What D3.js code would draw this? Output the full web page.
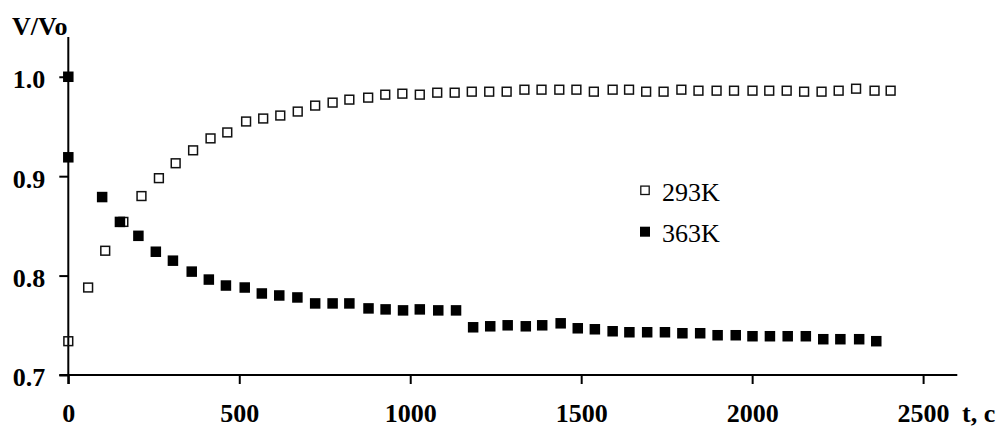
<!DOCTYPE html>
<html>
<head>
<meta charset="utf-8">
<script src="https://cdn.jsdelivr.net/npm/d3@7"></script>
<style>
  html, body { margin: 0; padding: 0; background: #fff; }
  svg { display: block; }
  text { font-family: "Liberation Serif", "Times New Roman", serif; fill: #000; }
</style>
</head>
<body>
<div id="chart"></div>
<script>
// ---- data ----
const t293 = [0, 58, 108, 161, 214, 265, 314, 365, 416, 465, 520, 570, 620, 671, 722, 773, 822, 877,
  927, 977, 1028, 1079, 1130, 1180, 1231, 1282, 1334, 1384, 1436, 1486, 1537, 1592, 1640, 1690,
  1741, 1793, 1843, 1896, 1947, 2001, 2050, 2101, 2152, 2203, 2253, 2304, 2358, 2405];
const v293 = [0.734, 0.788, 0.825, 0.854, 0.880, 0.898, 0.913, 0.926, 0.938, 0.944, 0.955, 0.958, 0.961, 0.965, 0.971, 0.974, 0.977, 0.979,
  0.982, 0.983, 0.982, 0.984, 0.984, 0.985, 0.985, 0.985, 0.987, 0.987, 0.987, 0.987, 0.985, 0.987, 0.987, 0.985,
  0.985, 0.987, 0.986, 0.986, 0.986, 0.986, 0.986, 0.986, 0.985, 0.985, 0.986, 0.988, 0.986, 0.986];

const t363 = [0, 0, 99, 151, 205, 256, 306, 361, 411, 461, 516, 566, 617, 670, 722, 773, 822, 878,
  928, 979, 1028, 1082, 1134, 1184, 1234, 1285, 1338, 1386, 1440, 1490, 1540, 1592, 1641, 1693,
  1745, 1796, 1848, 1899, 1952, 2001, 2052, 2104, 2157, 2208, 2258, 2313, 2363];
const v363 = [1.000, 0.919, 0.879, 0.854, 0.840, 0.824, 0.815, 0.804, 0.796, 0.790, 0.788, 0.782, 0.780, 0.778, 0.772, 0.772, 0.772, 0.767,
  0.766, 0.765, 0.766, 0.765, 0.765, 0.748, 0.749, 0.750, 0.749, 0.750, 0.752, 0.747, 0.746, 0.744, 0.743, 0.743,
  0.743, 0.742, 0.742, 0.740, 0.740, 0.739, 0.739, 0.739, 0.739, 0.736, 0.736, 0.736, 0.734];

const xTicks = [0, 500, 1000, 1500, 2000, 2500];
const yTicks = [0.7, 0.8, 0.9, 1.0];
const seriesNames = ["293K", "363K"];
const xLabel = "t, c";
const yLabel = "V/Vo";

// ---- layout ----
const W = 1000, H = 428;
const svg = d3.select("#chart").append("svg").attr("width", W).attr("height", H);

const x = d3.scaleLinear().domain([0, 2600]).range([68.3, 957.3]);
const y = d3.scaleLinear().domain([0.7, 1.04]).range([375, 37]);

const fontSize = 26;
const xPad = 20;

// x axis
const gx = svg.append("g").attr("transform", `translate(0,${y(0.7)})`)
  .call(d3.axisBottom(x).tickValues(xTicks).tickSize(9).tickSizeOuter(0).tickPadding(xPad)
    .tickFormat(d3.format("d")));
gx.select(".domain").remove();
gx.selectAll(".tick line").attr("stroke", "#000").attr("stroke-width", 2);
gx.selectAll(".tick text").attr("font-size", fontSize).attr("font-weight", "bold")
  .attr("font-family", "Liberation Serif, Times New Roman, serif");
gx.append("line").attr("x1", x(0) - 9).attr("x2", x(2600)).attr("y1", 0).attr("y2", 0)
  .attr("stroke", "#000").attr("stroke-width", 2);

// y axis
const gy = svg.append("g").attr("transform", `translate(${x(0)},0)`)
  .call(d3.axisLeft(y).tickValues(yTicks).tickSize(9).tickSizeOuter(0).tickPadding(14)
    .tickFormat(d3.format(".1f")));
gy.select(".domain").remove();
gy.selectAll(".tick line").attr("stroke", "#000").attr("stroke-width", 2);
gy.selectAll(".tick text").attr("font-size", fontSize).attr("font-weight", "bold")
  .attr("dy", "0.42em")
  .attr("font-family", "Liberation Serif, Times New Roman, serif");
gy.append("line").attr("x1", 0).attr("x2", 0).attr("y1", y(1.04)).attr("y2", y(0.7) + 9)
  .attr("stroke", "#000").attr("stroke-width", 2);

// axis titles
svg.append("text").attr("x", 12).attr("y", 35)
  .attr("font-size", fontSize).attr("font-weight", "bold").text(yLabel);
svg.append("text").attr("x", 962).attr("y", y(0.7) + 9 + xPad + 0.71 * fontSize)
  .attr("font-size", fontSize).attr("font-weight", "bold").text(xLabel);

// data
const open = t293.map((t, i) => ({ t, v: v293[i] }));
const filled = t363.map((t, i) => ({ t, v: v363[i] }));

const so = 8.8; // open square inner size
svg.append("g").selectAll("rect").data(open).join("rect")
  .attr("x", d => x(d.t) - so / 2).attr("y", d => y(d.v) - so / 2)
  .attr("width", so).attr("height", so)
  .attr("fill", "none").attr("stroke", "#111").attr("stroke-width", 1.5);

const sf = 10.5;
svg.append("g").selectAll("rect").data(filled).join("rect")
  .attr("x", d => x(d.t) - sf / 2).attr("y", d => y(d.v) - sf / 2)
  .attr("width", sf).attr("height", sf)
  .attr("fill", "#000");

// legend
const legend = svg.append("g");
const legY = [190.3, 231.7];
seriesNames.forEach((name, i) => {
  const cy = legY[i];
  if (i === 0) {
    legend.append("rect").attr("x", 645 - 4.2).attr("y", cy - 4.2).attr("width", 8.4).attr("height", 8.4)
      .attr("fill", "none").attr("stroke", "#111").attr("stroke-width", 1.3);
  } else {
    legend.append("rect").attr("x", 645 - 5).attr("y", cy - 5).attr("width", 10).attr("height", 10)
      .attr("fill", "#000");
  }
  legend.append("text").attr("x", 662).attr("y", cy + 10.2)
    .attr("font-size", fontSize).text(name);
});
</script>
</body>
</html>
